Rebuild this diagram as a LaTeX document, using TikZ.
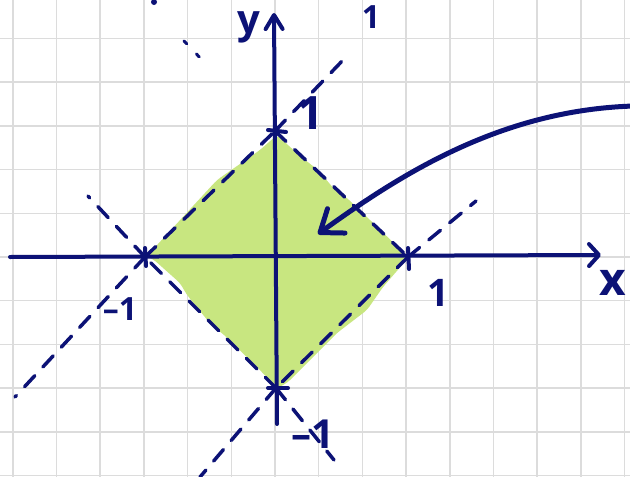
\documentclass[tikz,border=0pt]{standalone}
\usepackage{fontspec}
\setsansfont{Open Sans}
\usetikzlibrary{arrows.meta}
\definecolor{ink}{RGB}{12,18,118}
\definecolor{leaf}{RGB}{200,230,128}
\definecolor{gridc}{RGB}{220,220,220}
\tikzset{
 gridline/.style={gridc, line width=1.5pt},
 axisline/.style={ink, line width=4pt, line cap=round},
 dashline/.style={ink, line width=3.5pt, line cap=round, dash pattern=on 15pt off 12pt},
 sparse/.style={ink, line width=3pt, line cap=round, dash pattern=on 4pt off 14pt},
 tickmark/.style={ink, line width=4pt, line cap=round},
 lbl/.style={ink, font=\sffamily\bfseries\fontsize{#1}{#1}\selectfont, inner sep=0pt},
 pointer/.style={ink, line width=5pt, line cap=round,
   -{Straight Barb[length=20pt,width=30pt,line cap=round,line join=round]}},
}
\begin{document}
\begin{tikzpicture}[x=1pt,y=-1pt]
\useasboundingbox (0,0) rectangle (630,477);
\begin{scope}
\clip (0,0) rectangle (630,477);
\fill[white] (0,0) rectangle (630,477);
% grid
\foreach \k in {0,...,14} \draw[gridline] (12.8+43.7*\k,0) -- (12.8+43.7*\k,477);
\foreach \k in {-5,...,5} \draw[gridline] (0,257-43.7*\k) -- (630,257-43.7*\k);
% key points
\coordinate (O) at (275,257);
\coordinate (T) at (275,131);
\coordinate (R) at (408,257);
\coordinate (B) at (276,388);
\coordinate (L) at (145,257);
% green region
\fill[leaf, rounded corners=4pt] (277,135) -- (300,156) -- (318,170) -- (335,190) -- (347,198) -- (370,220) -- (403,252) -- (409,257) -- (383,287) -- (367,310) -- (337,333) -- (287,383) -- (277,388) -- (257,367) -- (222,333) -- (213,327) -- (187,295) -- (180,283) -- (153,259) -- (146,257) -- (217,180) -- (260,150) -- cycle;
% dashed edges
\draw[dashline] (L) -- (T);
\draw[dashline] (T) -- (R);
\draw[dashline] (R) -- (B);
\draw[dashline] (B) -- (L);
% dashed extensions
\coordinate (e1) at (345,58);
\coordinate (e2a) at (184,41);
\coordinate (e2b) at (206,64);
\coordinate (e3) at (476,201);
\coordinate (e4) at (88,196);
\coordinate (e5) at (15,397);
\coordinate (e6) at (200,477);
\coordinate (e7) at (334,460);
\draw[dashline] (T) -- (e1);
\draw[sparse] (e2a) -- (e2b);
\draw[dashline] (R) -- (e3);
\draw[dashline] (L) -- (e4);
\draw[dashline] (L) -- (e5);
\draw[dashline] (B) -- (e6);
\draw[dashline] (B) -- (e7);
% axes
\coordinate (xs) at (10,257);
\coordinate (xe) at (601,255);
\coordinate (ys) at (277,424);
\coordinate (ye) at (274,13);
\draw[axisline, -{Straight Barb[length=10pt,width=22pt,line cap=round,line join=round]}] (xs) -- (xe);
\draw[axisline, -{Straight Barb[length=14pt,width=17pt,line cap=round,line join=round]}] (ys) -- (ye);
% ticks
\draw[tickmark] (145,248) -- (146,266);
\draw[tickmark] (408,248) -- (409,269);
\draw[tickmark] (268,130) -- (286,132);
\draw[tickmark] (268,388) -- (288,388);
% stray mark at top
\fill[ink] (154,2) circle (3);
% labels
\node[lbl=40] (ly) at (249,27) {y};
\node[lbl=32] (lt1) at (371,17) {1};
\node[lbl=46] (ltop) at (311,113) {1};
\node[lbl=38] (lright) at (438,293) {1};
\node[lbl=32] (lleft) at (120,309) {–1};
\node[lbl=40] (lbot) at (313,434) {–1};
\node[lbl=46] (lx) at (613,283) {x};
% pointer arrow
\coordinate (a0) at (634,106);
\coordinate (a1) at (318,234);
\draw[pointer] (a0) .. controls (500,110) and (400,175) .. (a1);
\end{scope}
\end{tikzpicture}
\end{document}
